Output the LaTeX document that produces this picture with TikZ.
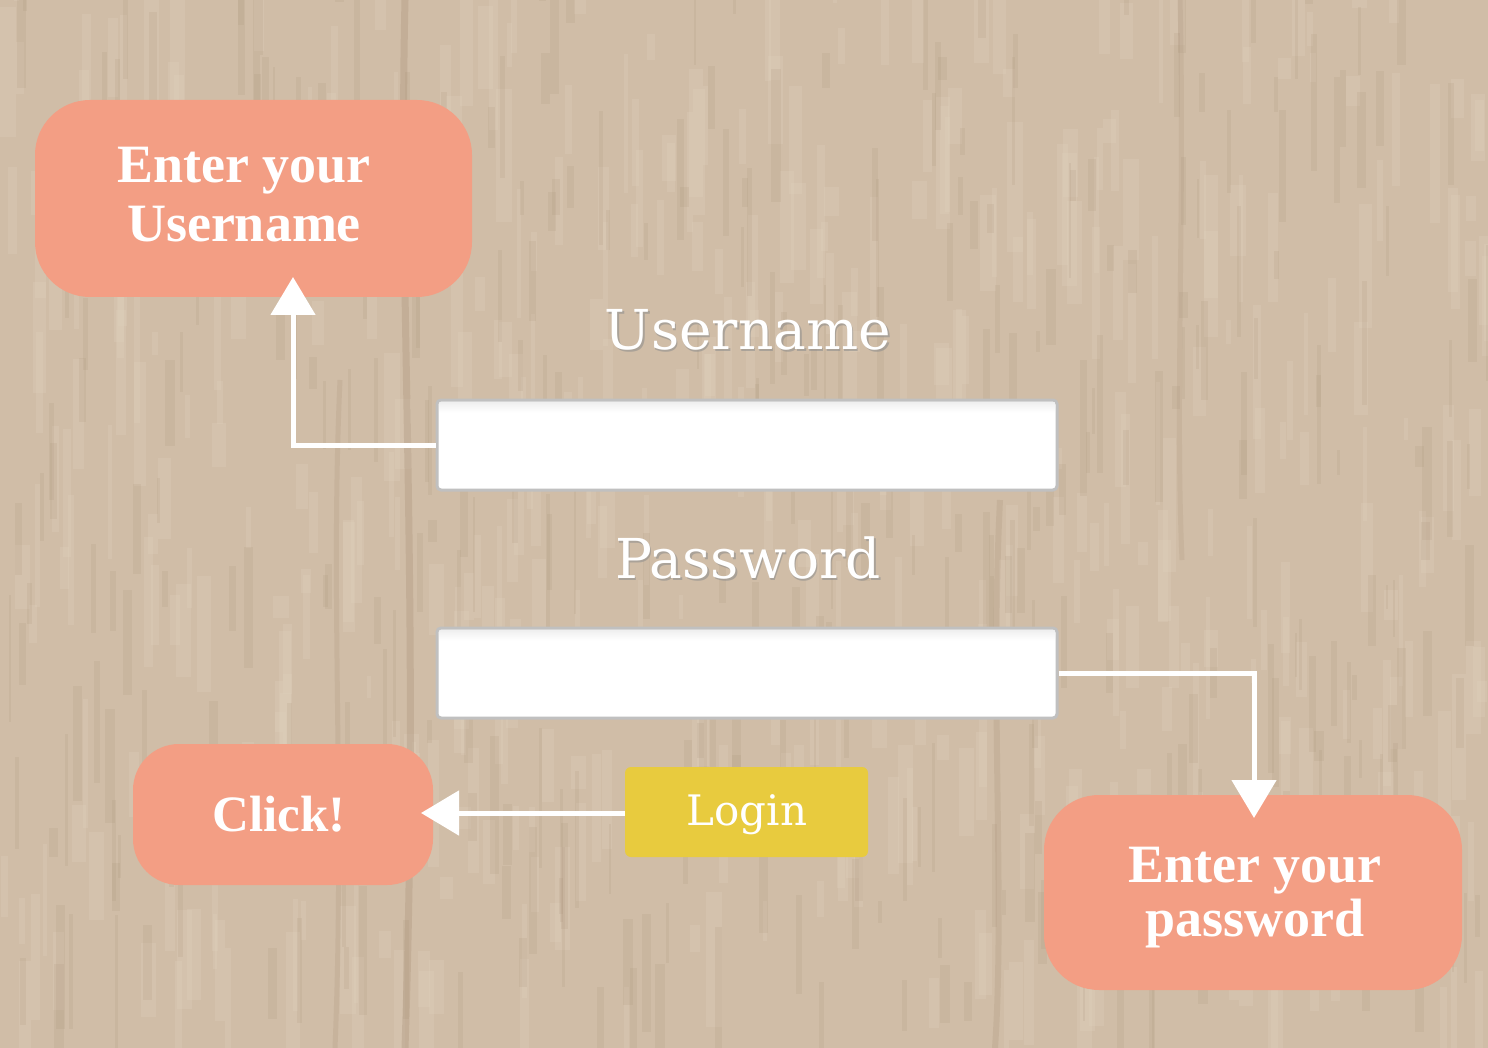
\documentclass[tikz,border=0pt]{standalone}
\usepackage{fontspec}
\setmainfont{Liberation Serif}
\newfontfamily\labelfont{DejaVu Serif}
\usetikzlibrary{arrows.meta,calc}
\definecolor{wood}{RGB}{208,189,167}
\definecolor{woodlight}{RGB}{224,210,190}
\definecolor{wooddark}{RGB}{165,140,115}
\definecolor{salmon}{RGB}{243,158,132}
\definecolor{btn}{RGB}{232,203,62}
\definecolor{fieldline}{RGB}{192,192,192}
\begin{document}
\begin{tikzpicture}[x=1pt,y=-1pt,
  callout/.style={fill=salmon, rounded corners=55pt, inner sep=0pt},
  callouttext/.style={text=white, align=center, inner sep=0pt,
    font=\fontsize{54}{59}\selectfont\bfseries},
  field/.style={fill=white, draw=fieldline, line width=3pt, rounded corners=4pt,
    minimum width=620pt, minimum height=90pt, inner sep=0pt},
  lbl/.style={text=white, font=\labelfont\fontsize{55}{60}\selectfont, inner sep=0pt},
  lblshadow/.style={text=black!45, opacity=.55, font=\labelfont\fontsize{55}{60}\selectfont, inner sep=0pt},
  button/.style={fill=btn, rounded corners=6pt, inner sep=0pt,
    minimum width=243pt, minimum height=90pt},
  buttontext/.style={text=white, inner sep=0pt, font=\labelfont\fontsize{42}{46}\selectfont},
  conn/.style={draw=white, line width=5pt, -{Triangle[width=44pt,length=38pt]}}]
\useasboundingbox (0,0) rectangle (1488,1048);
% wood background
\fill[wood] (0,0) rectangle (1488,1048);
\pgfmathsetseed{11}
\foreach \i in {1,...,500}{
  \pgfmathsetmacro\xx{rnd*1488}
  \pgfmathsetmacro\yy{rnd*1048-60}
  \pgfmathsetmacro\hh{20+rnd*120}
  \pgfmathsetmacro\ww{4+rnd*12}
  \fill[woodlight, opacity=.28] (\xx,\yy) rectangle ++(\ww,\hh);
}
\foreach \i in {1,...,350}{
  \pgfmathsetmacro\xx{rnd*1488}
  \pgfmathsetmacro\yy{rnd*1048-60}
  \pgfmathsetmacro\hh{20+rnd*120}
  \pgfmathsetmacro\ww{2+rnd*8}
  \fill[wooddark, opacity=.14] (\xx,\yy) rectangle ++(\ww,\hh);
}
\draw[wooddark, opacity=.3, line width=7pt] (405,0) .. controls (398,300) and (420,600) .. (405,1048);
\draw[wooddark, opacity=.22, line width=6pt] (1000,500) .. controls (990,700) and (1005,900) .. (995,1048);
\draw[wooddark, opacity=.2, line width=5pt] (340,380) .. controls (330,600) and (345,800) .. (335,1048);
\draw[wooddark, opacity=.18, line width=5pt] (1180,0) .. controls (1185,200) and (1175,400) .. (1182,560);
% callouts
\node[callout, minimum width=437pt, minimum height=197pt] (ucall) at (253.5,198.5) {};
\node[callouttext] (ucalltext) at (244,195) {Enter your\\Username};
\node[callout, minimum width=300pt, minimum height=141pt, rounded corners=46pt] (ccall) at (283,814.5) {};
\node[callouttext, font=\fontsize{51}{56}\selectfont\bfseries] (ccalltext) at (279,814) {Click!};
\node[callout, minimum width=418pt, minimum height=195pt] (pcall) at (1253,892.5) {};
\node[callouttext, font=\fontsize{54}{54}\selectfont\bfseries] (pcalltext) at (1255,898) {Enter your\\password};
% labels
\node[lblshadow] (ulabels) at (749.5,332) {Username};
\node[lbl] (ulabel) at (748,330) {Username};
\node[lblshadow] (plabels) at (749.5,560) {Password};
\node[lbl] (plabel) at (748,558) {Password};
% fields
\node[field] (ufield) at (747,445) {};
\node[field] (pfield) at (747,673) {};
\shade[top color=black!6, bottom color=white] ([shift={(4,4)}]ufield.north west) rectangle ([shift={(-4,14)}]ufield.north east);
\shade[top color=black!6, bottom color=white] ([shift={(4,4)}]pfield.north west) rectangle ([shift={(-4,14)}]pfield.north east);
% login button
\node[button] (login) at (746.5,812) {};
\node[buttontext] (logintext) at (747,815) {Login};
% connector end points
\coordinate (utip) at (293,277);
\coordinate (ptip) at (1254,818);
\coordinate (ctip) at (421,813);
% connectors
\draw[conn] (ufield.west) -| (utip);
\draw[conn] (pfield.east) -| (ptip);
\draw[conn] (login.west |- ctip) -- (ctip);
\end{tikzpicture}
\end{document}
